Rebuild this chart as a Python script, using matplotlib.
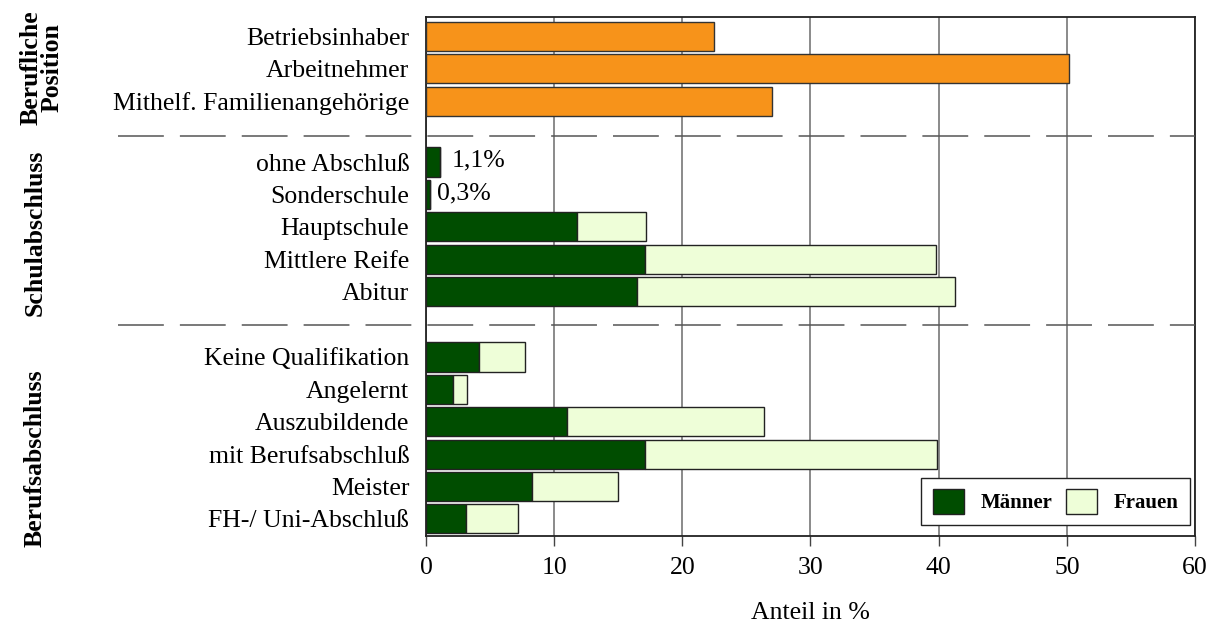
import numpy as np
import matplotlib
matplotlib.use('Agg')
import matplotlib.pyplot as plt
from matplotlib.patches import Patch

plt.rcParams['font.family'] = ['Liberation Serif', 'DejaVu Serif']

# data
pos_labels = ['Betriebsinhaber', 'Arbeitnehmer', 'Mithelf. Familienangehörige']
pos_values = [22.5, 50.2, 27.0]

schul_labels = ['ohne Abschluß', 'Sonderschule', 'Hauptschule', 'Mittlere Reife', 'Abitur']
schul_maenner = [1.1, 0.3, 11.8, 17.1, 16.5]
schul_frauen = [0.0, 0.0, 5.4, 22.7, 24.8]

beruf_labels = ['Keine Qualifikation', 'Angelernt', 'Auszubildende', 'mit Berufsabschluß',
                'Meister', 'FH-/ Uni-Abschluß']
beruf_maenner = [4.1, 2.1, 11.0, 17.1, 8.3, 3.1]
beruf_frauen = [3.6, 1.1, 15.4, 22.8, 6.7, 4.1]

annot_labels = ['1,1%', '0,3%']

orange = '#F7931A'
dgreen = '#004D00'
lgreen = '#EEFED8'
fs = 18.5

fig = plt.figure(figsize=(12.22, 6.27), dpi=100)
ax = fig.add_axes([0.3486, 0.145, 0.6293, 0.828])

y_pos = np.arange(len(pos_labels))
y_schul = 3.88 + np.arange(len(schul_labels))
y_beruf = 9.9 + np.arange(len(beruf_labels))
h = 0.9

ax.barh(y_pos, pos_values, height=h, color=orange, edgecolor='#333333', lw=1, zorder=3)
ax.barh(y_schul, schul_maenner, height=h, color=dgreen, edgecolor='#222222', lw=1, zorder=3)
ax.barh(y_schul, schul_frauen, left=schul_maenner, height=h, color=lgreen,
        edgecolor='#222222', lw=1, zorder=3)
ax.barh(y_beruf, beruf_maenner, height=h, color=dgreen, edgecolor='#222222', lw=1, zorder=3)
ax.barh(y_beruf, beruf_frauen, left=beruf_maenner, height=h, color=lgreen,
        edgecolor='#222222', lw=1, zorder=3)

offsets = [8, 5]
for i, txt in enumerate(annot_labels):
    ax.annotate(txt, (schul_maenner[i], y_schul[i]), xytext=(offsets[i], 1),
                textcoords='offset points', va='center', ha='left', fontsize=fs)

ax.set_xlim(0, 60)
ax.set_ylim(15.43, -0.6)
ax.set_xticks(range(0, 61, 10))
ax.tick_params(axis='x', labelsize=fs, length=7, width=1, direction='out', pad=8, color='#444444')
ax.set_yticks(np.concatenate([y_pos, y_schul, y_beruf]))
ax.set_yticklabels(pos_labels + schul_labels + beruf_labels, fontsize=fs)
ax.tick_params(axis='y', length=0, pad=12)
ax.grid(axis='x', color='#777777', lw=1.2, zorder=0)
ax.set_axisbelow(True)
for s in ax.spines.values():
    s.set_color('#222222')
    s.set_linewidth(1.3)

fig.text(0.663, 0.004, 'Anteil in %', fontsize=fs, ha='center', va='bottom')

# dashed separators reaching into the label area
trans = ax.get_yaxis_transform()
for ysep in [3.07, 8.9]:
    ax.plot([-0.4, 1.0], [ysep, ysep], transform=trans, clip_on=False, color='#555555',
            lw=1.1, dashes=(30, 10.5), zorder=4)

# group labels
fig.text(0.034, 1 - 68 / 627, 'Berufliche\nPosition', rotation=90, ha='center', va='center',
         fontsize=fs, fontweight='bold', linespacing=0.9)
fig.text(0.029, 1 - 233 / 627, 'Schulabschluss', rotation=90, ha='center', va='center',
         fontsize=fs, fontweight='bold')
fig.text(0.029, 1 - 458 / 627, 'Berufsabschluss', rotation=90, ha='center', va='center',
         fontsize=fs, fontweight='bold')

handles = [Patch(facecolor=dgreen, edgecolor='#222222', label='Männer'),
           Patch(facecolor=lgreen, edgecolor='#222222', label='Frauen')]
leg = ax.legend(handles=handles, ncol=2, loc='lower right', bbox_to_anchor=(0.994, 0.021),
                borderaxespad=0, fancybox=False, framealpha=1, edgecolor='#222222',
                prop={'weight': 'bold', 'size': 15}, handlelength=1.5, handleheight=1.45,
                columnspacing=0.65, handletextpad=0.8, borderpad=0.55)
leg.get_frame().set_linewidth(1)

fig.savefig('out.png', dpi=100)
